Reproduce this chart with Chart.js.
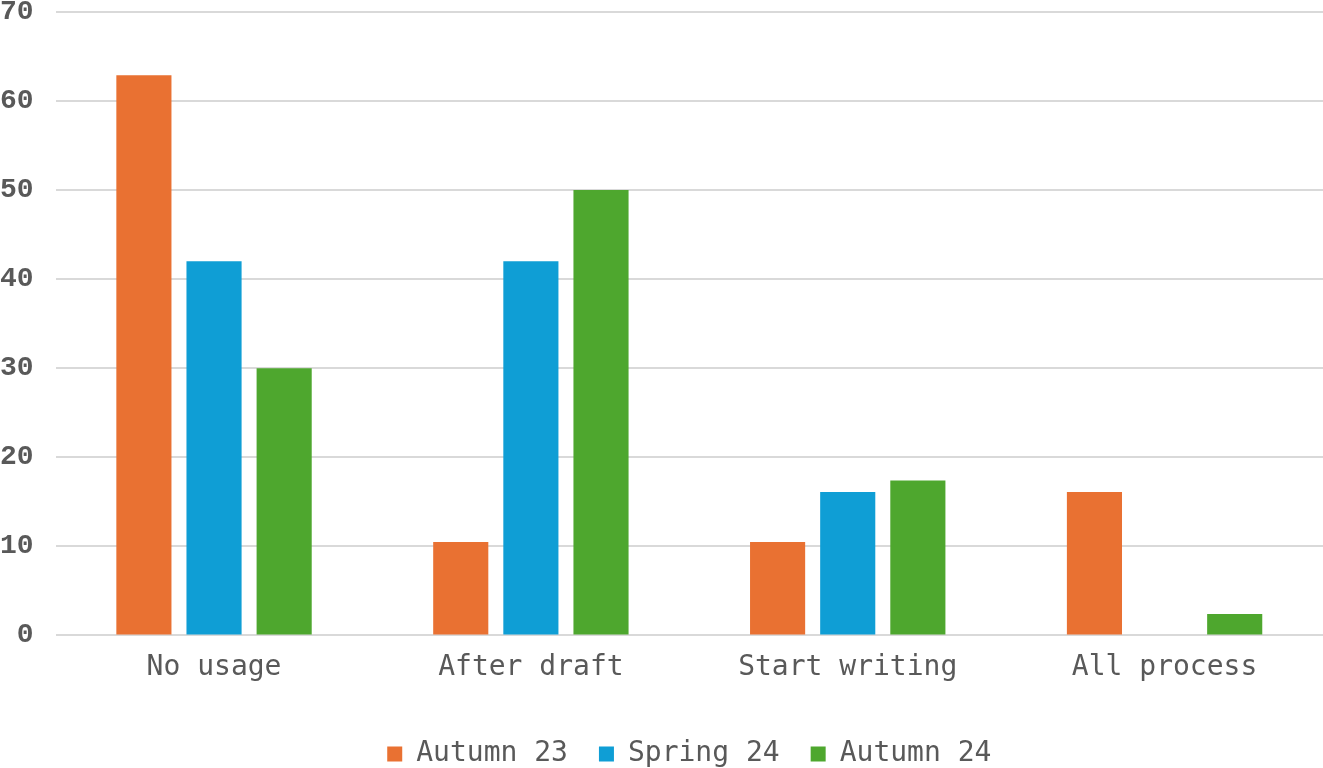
<!DOCTYPE html>
<html>
<head>
<meta charset="utf-8">
<script src="https://cdn.jsdelivr.net/npm/chart.js@4/dist/chart.umd.min.js"></script>
<style>
  html, body { margin: 0; padding: 0; background: #fff; }
  #wrap { width: 1323px; height: 768px; }
</style>
</head>
<body>
<div id="wrap"><canvas id="usageChart" width="1323" height="768"></canvas></div>
<script>
var categories = ["No usage", "After draft", "Start writing", "All process"];
var autumn23 = [62.9, 10.5, 10.5, 16.1];
var spring24 = [42.0, 42.0, 16.1, 0];
var autumn24 = [30.0, 50.0, 17.4, 2.4];
var yTicks = [0, 10, 20, 30, 40, 50, 60, 70];

var labelFont = "'DejaVu Sans Mono', 'Liberation Mono', monospace";
var tickFont = "'Liberation Mono', 'DejaVu Sans Mono', monospace";
var textColor = "#595959";

function bar_dataset(label, data, color) {
    return {
        label: label,
        data: data,
        backgroundColor: color,
        borderWidth: 0,
        categoryPercentage: 0.664,
        barPercentage: 0.786,
    };
}

var config = {
    type: "bar",
    data: {
        labels: categories,
        datasets: [
            bar_dataset("Autumn 23", autumn23, "#E97132"),
            bar_dataset("Spring 24", spring24, "#0F9ED5"),
            bar_dataset("Autumn 24", autumn24, "#4EA72E"),
        ],
    },
    options: {
        responsive: false,
        animation: false,
        layout: { padding: { top: 0, right: 0, bottom: -10, left: -22 } },
        plugins: {
            tooltip: { enabled: false },
            legend: {
                position: "bottom",
                fullSize: false,
                labels: {
                    boxWidth: 15,
                    boxHeight: 15,
                    padding: 31,
                    color: textColor,
                    font: { family: labelFont, size: 28 },
                },
            },
        },
        scales: {
            x: {
                grid: { display: false },
                border: { display: false },
                ticks: {
                    color: textColor,
                    padding: 8,
                    font: { family: labelFont, size: 28 },
                },
                afterFit: (axis) => {
                    axis.height += 16;
                },
            },
            y: {
                min: 0,
                max: 70,
                afterBuildTicks: (axis) => {
                    axis.ticks = yTicks.map((v) => ({ value: v }));
                },
                afterFit: (axis) => {
                    // the tick padding is meant for the gap to the left only
                    axis.paddingTop = 12;
                    axis.paddingBottom = 0;
                },
                grid: { color: "#d9d9d9", lineWidth: 2, drawTicks: false },
                border: { display: false },
                ticks: {
                    color: textColor,
                    padding: 22,
                    font: { family: tickFont, size: 28, weight: "bold" },
                },
            },
        },
    },
};

new Chart("usageChart", config);
</script>
</body>
</html>
